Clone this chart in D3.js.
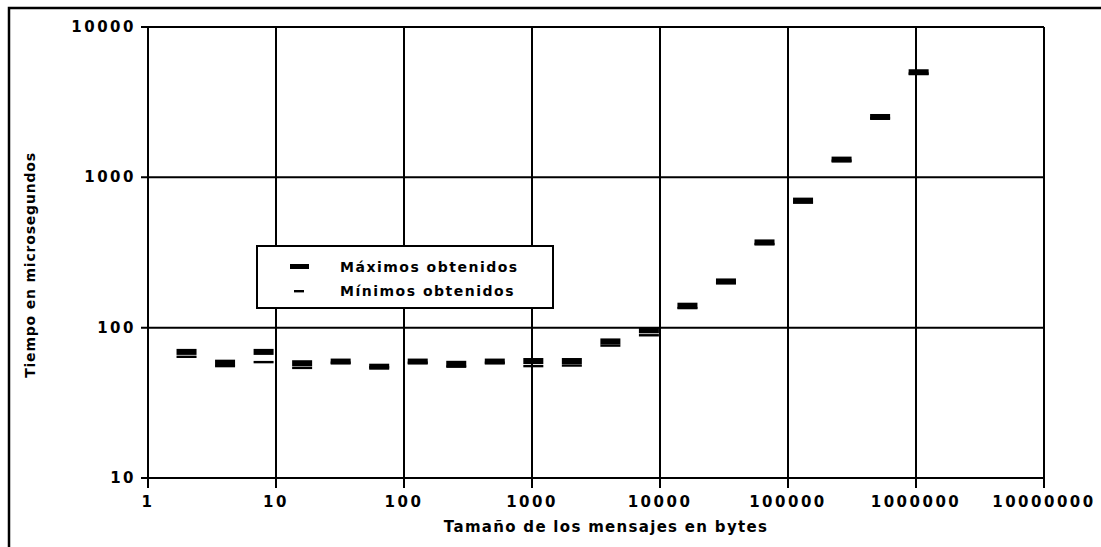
<!DOCTYPE html>
<html><head><meta charset="utf-8">
<script src="https://cdn.jsdelivr.net/npm/d3@7"></script>
<style>
body{margin:0;background:#fff;}
text{font-family:"DejaVu Sans",sans-serif;fill:#000;}
</style></head>
<body><svg id="c" width="1101" height="547"></svg>
<script>
const sizes = [2,4,8,16,32,64,128,256,512,1024,2048,4096,8192,16384,32768,65536,131072,262144,524288,1048576];
const maxVals = [69,58.5,69,58,59.5,55,59.5,57.5,59.5,60,60,81,96,140,203,369,700,1312,2520,5000];
const minVals = [64,55.5,59,54,58.5,54.5,58.5,55,58.5,55.5,56,76,89,135,198,360,680,1290,2480,4900];
const xTicks = [1,10,100,1000,10000,100000,1000000,10000000];
const yTicks = [10,100,1000,10000];
const legendLabels = ["Máximos obtenidos","Mínimos obtenidos"];

const svg = d3.select("#c");
const L=148,R=1044,T=27,B=478;
const x = d3.scaleLog().domain([1,10000000]).range([L,R]);
const y = d3.scaleLog().domain([10,10000]).range([B,T]);

// outer frame
svg.append("path").attr("d","M9,547 L9,8 L1101,8").attr("fill","none").attr("stroke","#000").attr("stroke-width",2.5);

// grid
svg.append("g").selectAll("line").data(xTicks).join("line")
  .attr("x1",d=>x(d)).attr("x2",d=>x(d)).attr("y1",T).attr("y2",B+10)
  .attr("stroke","#000").attr("stroke-width",2);
svg.append("g").selectAll("line").data(yTicks).join("line")
  .attr("x1",L-7).attr("x2",R).attr("y1",d=>y(d)).attr("y2",d=>y(d))
  .attr("stroke","#000").attr("stroke-width",2);

// tick labels
svg.append("g").selectAll("text").data(xTicks).join("text")
  .attr("x",d=>x(d)).attr("y",B+29).attr("text-anchor","middle")
  .style("font-size","15px").style("font-weight","bold").style("letter-spacing","2.5px")
  .text(d=>d);
svg.append("g").selectAll("text").data(yTicks).join("text")
  .attr("x",L-12).attr("y",d=>y(d)+5).attr("text-anchor","end")
  .style("font-size","15px").style("font-weight","bold").style("letter-spacing","2.5px")
  .text(d=>d);

// axis titles
svg.append("text").attr("x",606).attr("y",532).attr("text-anchor","middle")
  .style("font-size","15px").style("font-weight","bold").style("letter-spacing","1.3px").text("Tamaño de los mensajes en bytes");
svg.append("text").attr("transform","translate(35,265) rotate(-90)").attr("text-anchor","middle")
  .style("font-size","14px").style("font-weight","bold").style("letter-spacing","0.8px").text("Tiempo en microsegundos");

// markers
const W=20;
svg.append("g").selectAll("rect").data(sizes).join("rect")
  .attr("x",d=>x(d)-W/2).attr("width",W)
  .attr("y",(d,i)=>y(minVals[i])-1.2).attr("height",2.4).attr("fill","#000");
svg.append("g").selectAll("rect").data(sizes).join("rect")
  .attr("x",d=>x(d)-W/2).attr("width",W)
  .attr("y",(d,i)=>y(maxVals[i])-3).attr("height",6).attr("fill","#000");

// legend
const lg = svg.append("g");
lg.append("rect").attr("x",257).attr("y",246).attr("width",296).attr("height",62)
  .attr("fill","#fff").attr("stroke","#000").attr("stroke-width",2);
lg.append("rect").attr("x",290).attr("y",264).attr("width",19).attr("height",5).attr("fill","#000");
lg.append("rect").attr("x",294).attr("y",290).attr("width",10).attr("height",2.4).attr("fill","#000");
lg.selectAll("text.l").data(legendLabels).join("text").attr("class","l")
  .attr("x",340).attr("y",(d,i)=>272+i*24)
  .style("font-size","14px").style("font-weight","bold").style("letter-spacing","1.5px").text(d=>d);
</script></body></html>
